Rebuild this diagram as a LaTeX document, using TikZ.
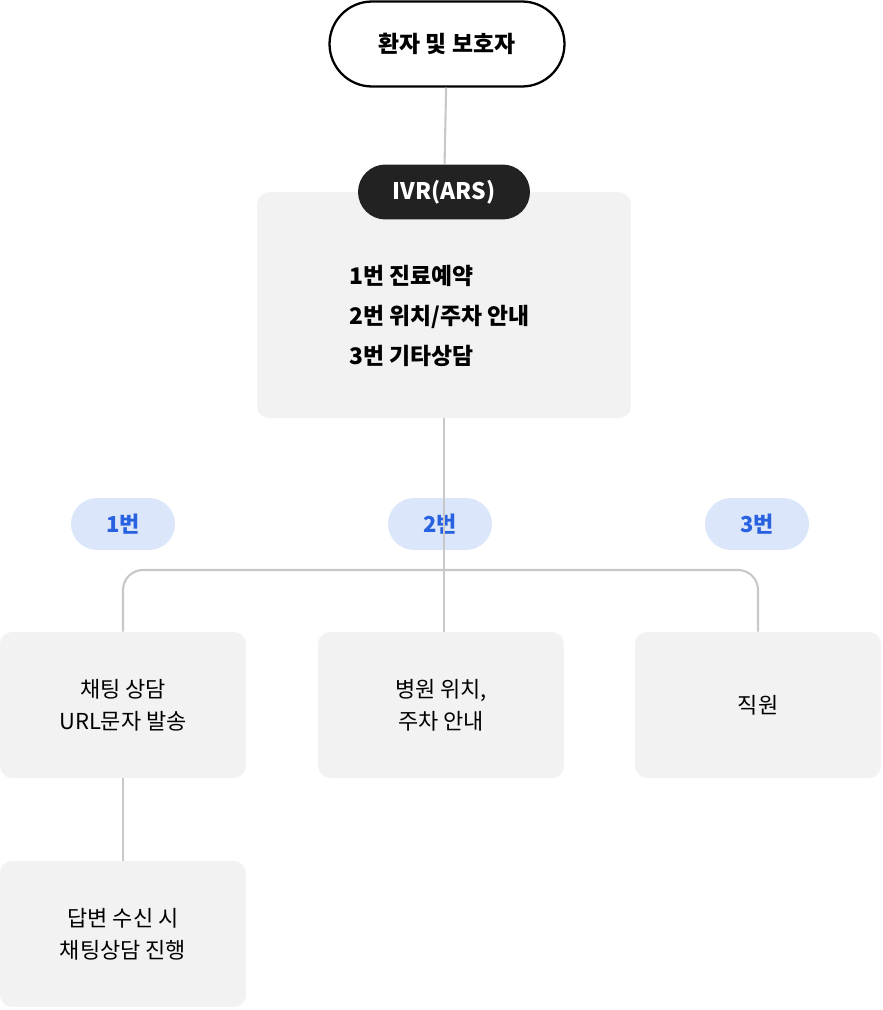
\documentclass[tikz,border=0pt]{standalone}
\usepackage{fontspec}
\setmainfont{Noto Sans CJK KR}
\usetikzlibrary{positioning}
\definecolor{boxgray}{HTML}{F2F2F2}
\definecolor{linegray}{HTML}{C8C8C8}
\definecolor{tagblue}{HTML}{DCE6FB}
\definecolor{textblue}{HTML}{2962E0}
\definecolor{pillblack}{HTML}{222222}
\begin{document}
\begin{tikzpicture}[x=0.02cm, y=-0.02cm,
    box/.style={fill=boxgray, rounded corners=0.24cm, minimum width=4.92cm, minimum height=2.92cm, align=center, font=\fontsize{12.5}{18}\selectfont},
    tag/.style={fill=tagblue, rounded corners=0.52cm, minimum width=2.08cm, minimum height=1.04cm, text=textblue, font=\fontsize{12.5}{15}\selectfont\bfseries},
    conn/.style={draw=linegray, line width=1.2pt}]
    \useasboundingbox (0,0) rectangle (882,1010);

    % root and menu
    \node[box, minimum width=7.48cm, minimum height=4.52cm] (menu) at (444,305) {};
    \node[draw=black, line width=1.3pt, fill=white, rounded corners=0.85cm, minimum width=4.7cm, minimum height=1.7cm, font=\fontsize{13}{15}\selectfont\bfseries] (root) at (447,44) {환자 및 보호자};
    \node[fill=pillblack, text=white, rounded corners=0.55cm, minimum width=3.44cm, minimum height=1.1cm, font=\fontsize{13}{15}\selectfont\bfseries] (ivr) at (444,192) {IVR(ARS)};
    \node[anchor=west, align=left, font=\fontsize{13}{23}\selectfont\bfseries] (items) at (343,316) {1번 진료예약\\2번 위치/주차 안내\\3번 기타상담};

    % branch tags
    \node[tag] (t1) at (123,524) {1번};
    \node[tag] (t2) at (440,524) {2번};
    \node[tag] (t3) at (757,524) {3번};

    % answer boxes
    \node[box] (chat) at (123,705) {채팅 상담\\URL문자 발송};
    \node[box] (loc) at (441,705) {병원 위치,\\주차 안내};
    \node[box] (staff) at (758,705) {직원};
    \node[box] (reply) at (123,934) {답변 수신 시\\채팅상담 진행};

    % connectors
    \coordinate (bar) at (444,570);
    \draw[conn] (root) -- (ivr);
    \draw[conn] (menu.south -| bar) -- (loc.north -| bar);
    \draw[conn, rounded corners=0.4cm] (chat.north) |- (bar) -| (staff.north);
    \draw[conn] (chat) -- (reply);
\end{tikzpicture}
\end{document}
